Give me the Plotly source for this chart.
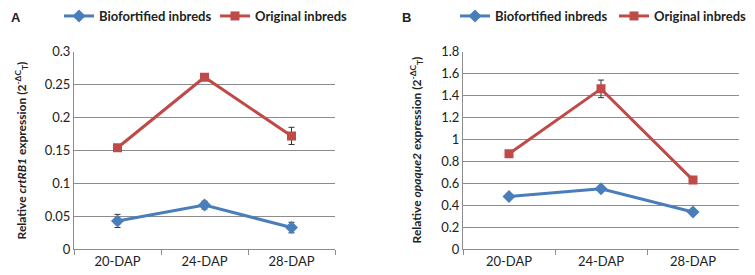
import plotly.graph_objects as go

categories = ["20-DAP", "24-DAP", "28-DAP"]

a_bio = [0.043, 0.067, 0.033]
a_bio_err = [0.010, 0.006, 0.008]
a_orig = [0.154, 0.261, 0.172]
a_orig_err = [0.002, 0.002, 0.013]

b_bio = [0.48, 0.55, 0.34]
b_bio_err = [0.02, 0.02, 0.02]
b_orig = [0.87, 1.46, 0.63]
b_orig_err = [0.02, 0.08, 0.02]

a_ticks = [0, 0.05, 0.1, 0.15, 0.2, 0.25, 0.3]
a_ticktext = ["0", "0.05", "0.1", "0.15", "0.2", "0.25", "0.3"]
b_ticks = [0, 0.2, 0.4, 0.6, 0.8, 1.0, 1.2, 1.4, 1.6, 1.8]
b_ticktext = ["0", "0.2", "0.4", "0.6", "0.8", "1", "1.2", "1.4", "1.6", "1.8"]

BLUE = "#4A7EBB"
RED = "#BE4B48"
FONT = "Lato"
OFF = 8  # default page body margin
W, H = 755 - OFF, 275 - OFF


def px(x):
    return (x - OFF) / W


def py(y):
    return 1 - (y - OFF) / H


fig = go.Figure()


def add_pair(bio, bio_err, orig, orig_err, xa, ya, leg1, leg2):
    fig.add_trace(go.Scatter(
        x=categories, y=bio, name="Biofortified inbreds", mode="lines+markers",
        line=dict(color=BLUE, width=3), marker=dict(symbol="diamond", size=10, color=BLUE),
        error_y=dict(type="data", array=bio_err, color="#333333", thickness=1, width=3),
        xaxis=xa, yaxis=ya, legend=leg1))
    fig.add_trace(go.Scatter(
        x=categories, y=orig, name="Original inbreds", mode="lines+markers",
        line=dict(color=RED, width=3), marker=dict(symbol="square", size=9, color=RED),
        error_y=dict(type="data", array=orig_err, color="#333333", thickness=1, width=3),
        xaxis=xa, yaxis=ya, legend=leg2))


add_pair(a_bio, a_bio_err, a_orig, a_orig_err, "x", "y", "legend", "legend2")
add_pair(b_bio, b_bio_err, b_orig, b_orig_err, "x2", "y2", "legend3", "legend4")

ytop = py(51.5)
ybot = py(249.3)

xcommon = dict(type="category", tickson="boundaries", ticks="outside", ticklen=5,
               tickcolor="#8c8c8c", showline=True, linecolor="#8c8c8c", linewidth=1,
               showgrid=False, range=[-0.5, 2.5], tickfont=dict(family=FONT, size=13, color="#222"),
               automargin=False)
ycommon = dict(showline=True, linecolor="#8c8c8c", linewidth=1, showgrid=True,
               gridcolor="#8c8c8c", gridwidth=1, ticks="", zeroline=False, automargin=False,
               tickfont=dict(family=FONT, size=13, color="#222"))


def leg(text_start):
    return dict(orientation="h", x=px(text_start - 45), y=py(1), xanchor="left",
                yanchor="top", font=dict(family=FONT, size=13, color="#222", weight="bold"),
                bgcolor="rgba(0,0,0,0)", itemwidth=30)


fig.update_layout(
    width=W, height=H, margin=dict(l=0, r=0, t=0, b=0, autoexpand=False),
    paper_bgcolor="white", plot_bgcolor="white",
    xaxis=dict(domain=[px(74), px(335)], anchor="y", **xcommon),
    yaxis=dict(domain=[ybot, ytop], anchor="x", range=[0, 0.3], tickvals=a_ticks,
               ticktext=a_ticktext, **ycommon),
    xaxis2=dict(domain=[px(463), px(739)], anchor="y2", **xcommon),
    yaxis2=dict(domain=[ybot, ytop], anchor="x2", range=[0, 1.8], tickvals=b_ticks,
                ticktext=b_ticktext, **ycommon),
    legend=leg(104), legend2=leg(260), legend3=leg(500), legend4=leg(659),
    showlegend=True,
    annotations=[
        dict(text="<b>A</b>", x=px(9), y=1, xref="paper", yref="paper",
             showarrow=False, font=dict(family="Liberation Sans", size=13, color="#222"),
             xanchor="left", yanchor="top"),
        dict(text="<b>B</b>", x=px(406), y=1, xref="paper", yref="paper",
             showarrow=False, font=dict(family="Liberation Sans", size=13, color="#222"),
             xanchor="center", yanchor="top"),
        dict(text="<b>Relative <i>crtRB1</i> expression (2<sup>-ΔC</sup><sub>T</sub>)</b>",
             x=px(22), y=(ytop + ybot) / 2, xref="paper", yref="paper", textangle=-90,
             showarrow=False, font=dict(family=FONT, size=12, color="#222"),
             xanchor="center", yanchor="middle"),
        dict(text="<b>Relative <i>opaque2</i> expression (2<sup>-ΔC</sup><sub>T</sub>)</b>",
             x=px(417), y=(ytop + ybot) / 2, xref="paper", yref="paper", textangle=-90,
             showarrow=False, font=dict(family=FONT, size=12, color="#222"),
             xanchor="center", yanchor="middle"),
    ],
)

fig.write_html("out.html")
